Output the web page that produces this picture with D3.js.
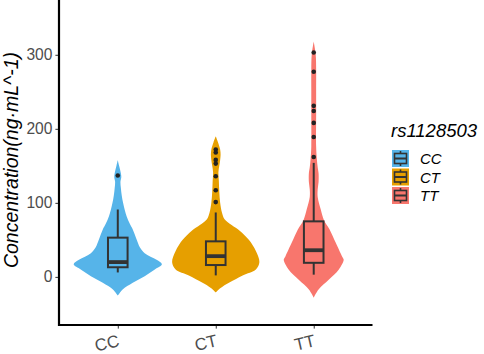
<!DOCTYPE html>
<html><head><meta charset="utf-8">
<script src="https://cdn.jsdelivr.net/npm/d3@7/dist/d3.min.js"></script>
<style>body{margin:0;background:#fff;} svg{display:block;font-family:"Liberation Sans",Arial,sans-serif;}</style>
</head><body>
<script>
// ---------- data ----------
const categories = ["CC", "CT", "TT"];
const fills = ["#56B4E9", "#E69F00", "#F8766D"];
const yTicks = [0, 100, 200, 300];

// box statistics
const q1 = [13, 16, 19];
const medians = [20, 28, 36];
const q3 = [53, 48, 75];
const whiskerLow = [6, 2, 3];
const whiskerHigh = [91, 87, 154];

// outliers
const outliersCC = [137];
const outliersCT = [172, 168, 158, 153, 136, 117, 101];
const outliersTT = [303, 277, 231, 224, 208, 189, 162];

// violin density profiles (value levels and relative half-widths)
const violinCCValues = [158, 150, 140, 135, 128, 120, 110, 100, 90, 82, 72, 64, 50, 40, 32, 23, 17, 10, 1, -8, -17, -22, -25];
const violinCCWidths = [0, 0.03, 0.07, 0.08, 0.06, 0.07, 0.09, 0.12, 0.16, 0.2, 0.27, 0.34, 0.43, 0.5, 0.61, 0.88, 1.0, 0.84, 0.61, 0.34, 0.11, 0.04, 0];
const violinCTValues = [190, 182, 172, 165, 158, 150, 141, 130, 115, 100, 87, 78, 70, 62, 50, 35, 20, 10, 2, -8, -15, -21];
const violinCTWidths = [0, 0.05, 0.1, 0.11, 0.1, 0.08, 0.06, 0.07, 0.08, 0.1, 0.14, 0.2, 0.36, 0.55, 0.75, 0.91, 0.99, 0.91, 0.61, 0.3, 0.11, 0];
const violinTTValues = [318, 300, 280, 250, 220, 176, 160, 148, 140, 128, 118, 108, 91, 77, 64, 46, 28, 23, 10, -4, -17, -28];
const violinTTWidths = [0, 0.045, 0.055, 0.055, 0.055, 0.055, 0.07, 0.09, 0.11, 0.11, 0.09, 0.09, 0.16, 0.23, 0.36, 0.5, 0.64, 0.68, 0.57, 0.34, 0.11, 0];

const outliers = [outliersCC, outliersCT, outliersTT];
const violinValues = [violinCCValues, violinCTValues, violinTTValues];
const violinWidths = [violinCCWidths, violinCTWidths, violinTTWidths];

// ---------- layout ----------
const W = 484, H = 354;
const mLeft = 59, mRight = 372.5, mTop = 0, mBottom = 325;
const dark = "#333333", grey = "#4D4D4D";

const svg = d3.select("body").append("svg").attr("width", W).attr("height", H);

const x = d3.scalePoint().domain(categories).range([mLeft, mRight]).padding(0.6);
const y = d3.scaleLinear().domain([-65, 374]).range([mBottom, mTop]);
const hw = d3.scaleLinear().domain([0, 1]).range([0, x.step() * 0.45]);
const boxHalf = x.step() * 0.1;

categories.forEach((c, i) => {
  const cx = x(c);
  const g = svg.append("g");
  const prof = violinValues[i].map((v, j) => ({v, w: violinWidths[i][j]}));
  const area = d3.area()
    .y(d => y(d.v))
    .x0(d => cx - hw(d.w))
    .x1(d => cx + hw(d.w))
    .curve(d3.curveCatmullRom.alpha(0.5));
  g.append("path").attr("d", area(prof)).attr("fill", fills[i]).attr("stroke", "none");

  // whiskers
  g.append("line").attr("x1", cx).attr("x2", cx).attr("y1", y(q3[i])).attr("y2", y(whiskerHigh[i]))
    .attr("stroke", dark).attr("stroke-width", 2);
  g.append("line").attr("x1", cx).attr("x2", cx).attr("y1", y(q1[i])).attr("y2", y(whiskerLow[i]))
    .attr("stroke", dark).attr("stroke-width", 2);
  // box
  g.append("rect").attr("x", cx - boxHalf).attr("width", boxHalf * 2)
    .attr("y", y(q3[i])).attr("height", y(q1[i]) - y(q3[i]))
    .attr("fill", fills[i]).attr("stroke", dark).attr("stroke-width", 2);
  g.append("line").attr("x1", cx - boxHalf).attr("x2", cx + boxHalf)
    .attr("y1", y(medians[i])).attr("y2", y(medians[i]))
    .attr("stroke", dark).attr("stroke-width", 3.8);
  // outliers
  g.selectAll("circle").data(outliers[i]).join("circle")
    .attr("cx", cx).attr("cy", d => y(d)).attr("r", 2.3).attr("fill", "#222");
});

// axes
const yAxis = svg.append("g").attr("transform", `translate(${mLeft},0)`)
  .call(d3.axisLeft(y).tickValues(yTicks).tickSize(3.6).tickPadding(3));
yAxis.select(".domain").remove();
yAxis.selectAll(".tick line").attr("stroke", dark).attr("stroke-width", 1);
yAxis.selectAll(".tick text").attr("fill", grey).attr("font-size", "15.6px")
  .attr("font-family", "Liberation Sans, Arial, sans-serif");

const xAxis = svg.append("g").attr("transform", `translate(0,${mBottom})`)
  .call(d3.axisBottom(x).tickSize(3.6));
xAxis.select(".domain").remove();
xAxis.selectAll(".tick line").attr("stroke", dark).attr("stroke-width", 1);
xAxis.selectAll(".tick text")
  .attr("fill", grey).attr("font-size", "17px")
  .attr("font-family", "Liberation Sans, Arial, sans-serif")
  .attr("text-anchor", "end").attr("dy", null).attr("y", null)
  .attr("transform", "translate(2,21) rotate(-13)");

svg.append("line").attr("x1", mLeft).attr("x2", mLeft).attr("y1", mTop).attr("y2", mBottom + 1)
  .attr("stroke", "#000").attr("stroke-width", 2.2);
svg.append("line").attr("x1", mLeft - 1).attr("x2", mRight).attr("y1", mBottom).attr("y2", mBottom)
  .attr("stroke", "#000").attr("stroke-width", 2.2);

// y title
svg.append("text").attr("transform", "translate(17.5,160) rotate(-90)")
  .attr("text-anchor", "middle").attr("font-size", "19.5px").attr("font-style", "italic")
  .attr("fill", "#000").text("Concentration(ng·mL^-1)");

// legend
const lg = svg.append("g");
lg.append("text").attr("x", 391).attr("y", 137).attr("font-size", "18.5px").attr("font-style", "italic")
  .attr("fill", "#000").text("rs1128503");
categories.forEach((c, i) => {
  const ky = 150 + i * 18.5;
  const kx = 392;
  const k = lg.append("g");
  k.append("rect").attr("x", kx).attr("y", ky).attr("width", 17).attr("height", 17).attr("fill", fills[i]);
  k.append("line").attr("x1", kx + 8.5).attr("x2", kx + 8.5).attr("y1", ky + 1).attr("y2", ky + 16)
    .attr("stroke", dark).attr("stroke-width", 1.6);
  k.append("rect").attr("x", kx + 2.5).attr("y", ky + 3.5).attr("width", 12).attr("height", 10)
    .attr("fill", fills[i]).attr("stroke", dark).attr("stroke-width", 1.6);
  k.append("line").attr("x1", kx + 2.5).attr("x2", kx + 14.5).attr("y1", ky + 8.5).attr("y2", ky + 8.5)
    .attr("stroke", dark).attr("stroke-width", 2);
  k.append("text").attr("x", 420).attr("y", ky + 14).attr("font-size", "15px").attr("font-style", "italic")
    .attr("fill", "#000").text(c);
});
</script>
</body></html>
